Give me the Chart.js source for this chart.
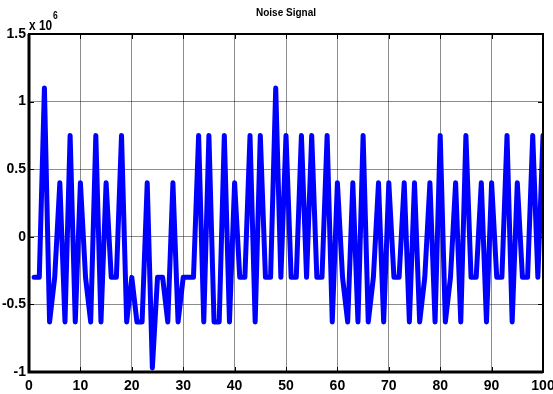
<!DOCTYPE html>
<html>
<head>
<meta charset="utf-8">
<script src="https://cdn.jsdelivr.net/npm/chart.js@4/dist/chart.umd.min.js"></script>
<style>
  html, body { margin: 0; padding: 0; background: #fff; }
  #wrap { width: 553px; height: 394px; }
</style>
</head>
<body>
<div id="wrap"><canvas id="noise" width="553" height="394"></canvas></div>
<script>
// noise samples 1..100, in units of 10^6
const noise = [
  -0.3, -0.3, 1.1, -0.63, -0.3, 0.4, -0.63, 0.75, -0.63, 0.4,
  -0.3, -0.63, 0.75, -0.63, 0.4, -0.3, -0.3, 0.75, -0.63, -0.3,
  -0.63, -0.63, 0.4, -0.97, -0.3, -0.3, -0.63, 0.4, -0.63, -0.3,
  -0.3, -0.3, 0.75, -0.63, 0.75, -0.63, -0.63, 0.75, -0.63, 0.4,
  -0.3, -0.3, 0.75, -0.63, 0.75, -0.3, -0.3, 1.1, -0.3, 0.75,
  -0.3, -0.3, 0.75, -0.3, 0.75, -0.3, -0.3, 0.75, -0.63, 0.4,
  -0.3, -0.63, 0.4, -0.63, 0.75, -0.63, -0.3, 0.4, -0.63, 0.4,
  -0.3, -0.3, 0.4, -0.63, 0.4, -0.63, -0.3, 0.4, -0.63, 0.75,
  -0.63, -0.3, 0.4, -0.63, 0.75, -0.3, -0.3, 0.4, -0.63, 0.4,
  -0.3, -0.3, 0.75, -0.63, 0.4, -0.3, -0.3, 0.75, -0.3, 0.75
]
const xTicks = [0, 10, 20, 30, 40, 50, 60, 70, 80, 90, 100]
const yTicks = [-1, -0.5, 0, 0.5, 1, 1.5]
const titleText = 'Noise Signal'
const expBase = 'x 10'
const expPow = '6'

const FONT = "'Liberation Sans Narrow', 'Liberation Sans', Arial, sans-serif"

// box, inward ticks, title and exponent label (matlab look)
const matlabFrame = {
    id: 'matlabFrame',
    afterDraw(chart) {
        const ctx = chart.ctx
        const a = chart.chartArea
        const xs = chart.scales.x, ys = chart.scales.y
        ctx.save()
        ctx.strokeStyle = '#000'
        ctx.lineWidth = 1
        ctx.beginPath()
        xTicks.forEach(t => {
            const px = Math.round(xs.getPixelForValue(t)) + 0.5
            ctx.moveTo(px, a.top); ctx.lineTo(px, a.top + 5)
            ctx.moveTo(px, a.bottom); ctx.lineTo(px, a.bottom - 5)
        })
        yTicks.forEach(t => {
            const py = Math.round(ys.getPixelForValue(t)) + 0.5
            ctx.moveTo(a.left, py); ctx.lineTo(a.left + 5, py)
            ctx.moveTo(a.right, py); ctx.lineTo(a.right - 5, py)
        })
        ctx.stroke()
        ctx.lineWidth = 2
        ctx.strokeRect(a.left, a.top, a.right - a.left, a.bottom - a.top)
        // bottom and left axes a bit heavier
        ctx.lineWidth = 3
        ctx.beginPath()
        ctx.moveTo(a.left, a.top); ctx.lineTo(a.left, a.bottom); ctx.lineTo(a.right, a.bottom)
        ctx.stroke()

        ctx.fillStyle = '#000'
        ctx.textBaseline = 'alphabetic'
        ctx.textAlign = 'center'
        ctx.font = 'bold 10px ' + FONT
        ctx.fillText(titleText, (a.left + a.right) / 2, 16)

        // "x 10^6", slightly condensed
        ctx.save()
        ctx.translate(a.left, 30)
        ctx.scale(0.85, 1)
        ctx.textAlign = 'left'
        ctx.font = 'bold 14px ' + FONT
        ctx.fillText(expBase, 0, 0)
        const w = ctx.measureText(expBase).width
        ctx.font = 'bold 10px ' + FONT
        ctx.fillText(expPow, w + 1, -11)
        ctx.restore()
        ctx.restore()
    }
}

function main() {
    const ctx = document.getElementById('noise').getContext('2d')
    new Chart(ctx, {
        type: 'line',
        data: {
            datasets: [{
                label: titleText,
                data: noise.map((v, i) => ({x: i + 1, y: v})),
                borderColor: '#0000ff',
                borderWidth: 5,
                borderJoinStyle: 'round',
                borderCapStyle: 'round',
                pointRadius: 0,
                tension: 0,
                fill: false
            }]
        },
        options: {
            responsive: false,
            animation: false,
            devicePixelRatio: 1,
            layout: { padding: { left: 0, top: 34, right: 10, bottom: 0 } },
            plugins: {
                legend: { display: false },
                title: { display: false },
                tooltip: { enabled: false }
            },
            scales: {
                x: {
                    type: 'linear',
                    min: 0,
                    max: 100,
                    afterBuildTicks: s => { s.ticks = xTicks.map(v => ({value: v})) },
                    afterFit: s => { s.height = 22; s.paddingLeft = 0; s.paddingRight = 0 },
                    grid: { color: 'rgba(0,0,0,0.45)', lineWidth: 1, drawTicks: false },
                    border: { display: false },
                    ticks: {
                        autoSkip: false,
                        maxRotation: 0,
                        padding: 6,
                        color: '#000',
                        font: { family: FONT, size: 14, weight: 'bold' }
                    }
                },
                y: {
                    min: -1,
                    max: 1.5,
                    afterBuildTicks: s => { s.ticks = yTicks.map(v => ({value: v})) },
                    afterFit: s => { s.width = 29; s.paddingTop = 0; s.paddingBottom = 0 },
                    grid: { color: 'rgba(0,0,0,0.45)', lineWidth: 1, drawTicks: false },
                    border: { display: false },
                    ticks: {
                        padding: 3,
                        color: '#000',
                        font: { family: FONT, size: 14, weight: 'bold' },
                        callback: v => String(v)
                    }
                }
            }
        },
        plugins: [matlabFrame]
    })
}

window.onload = main
</script>
</body>
</html>
